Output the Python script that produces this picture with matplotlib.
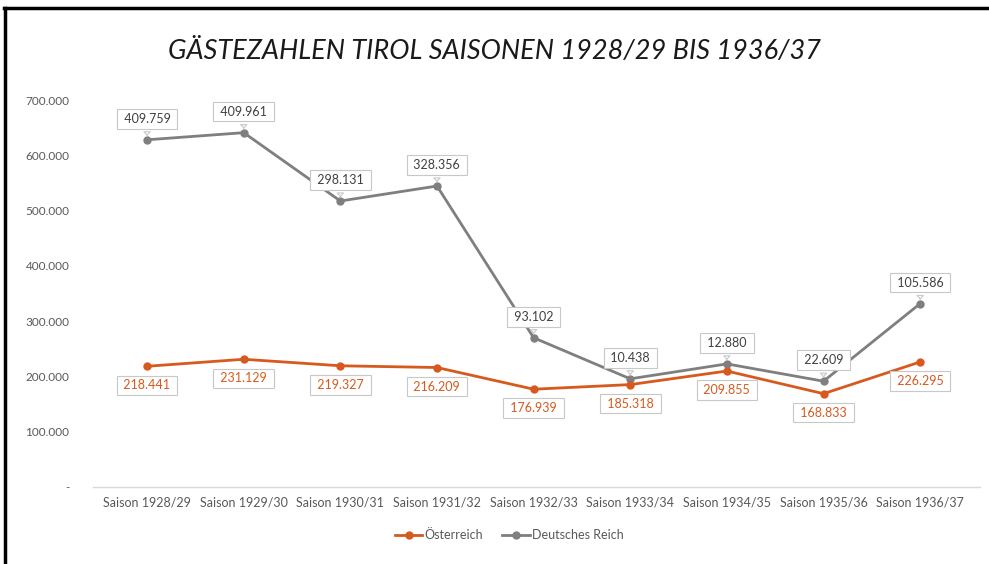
import matplotlib
matplotlib.use("Agg")
import matplotlib.pyplot as plt
from matplotlib.lines import Line2D
from matplotlib.ticker import FuncFormatter

# data
seasons = ["Saison 1928/29", "Saison 1929/30", "Saison 1930/31", "Saison 1931/32",
           "Saison 1932/33", "Saison 1933/34", "Saison 1934/35", "Saison 1935/36",
           "Saison 1936/37"]
oesterreich = [218441, 231129, 219327, 216209, 176939, 185318, 209855, 168833, 226295]
deutsches_reich = [409759, 409961, 298131, 328356, 93102, 10438, 12880, 22609, 105586]

ORANGE = "#D65A1E"
GRAY = "#7F7F7F"
plt.rcParams["font.family"] = ["Lato", "DejaVu Sans"]


def fmt_de(v):
    return f"{int(v):,}".replace(",", ".")


def y_fmt(v, pos):
    if v == 0:
        return "-"
    return fmt_de(v)


fig = plt.figure(figsize=(9.89, 5.64), dpi=100)
ax = fig.add_axes([0.094, 0.1365, 0.897, 0.686])

x = list(range(len(seasons)))
stacked = [a + b for a, b in zip(oesterreich, deutsches_reich)]

ax.plot(x, oesterreich, color=ORANGE, lw=2.0, marker="o", ms=5, zorder=3)
ax.plot(x, stacked, color=GRAY, lw=2.0, marker="o", ms=5, zorder=2)

box_kw = dict(boxstyle="square,pad=0.3", fc="white", ec="#C8C8C8", lw=0.8)
for i in x:
    ax.annotate(" " + fmt_de(oesterreich[i]) + " ", (i, oesterreich[i]), xytext=(0, -19),
                textcoords="offset pixels", ha="center", va="center",
                fontsize=9, color=ORANGE, bbox=box_kw, zorder=5)
    ax.annotate(" " + fmt_de(deutsches_reich[i]) + " ", (i, stacked[i]), xytext=(0, 21),
                textcoords="offset pixels", ha="center", va="center",
                fontsize=9, color="#404040", bbox=box_kw, zorder=5,
                arrowprops=dict(arrowstyle="wedge,tail_width=0.5,shrink_factor=0.4",
                                fc="white", ec="#C8C8C8", lw=0.8, shrinkB=3))

ax.set_xlim(-0.56, len(seasons) - 1 + 0.62)
ax.set_ylim(0, 700000)
ax.set_yticks(range(0, 700001, 100000))
ax.yaxis.set_major_formatter(FuncFormatter(y_fmt))
ax.set_xticks(x)
ax.set_xticklabels(seasons)
ax.tick_params(axis="both", length=0, labelcolor="#595959")
ax.tick_params(axis="x", labelsize=9, pad=7)
ax.tick_params(axis="y", labelsize=8.5, pad=17)
for s in ["top", "right", "left"]:
    ax.spines[s].set_visible(False)
ax.spines["bottom"].set_color("#D9D9D9")
ax.spines["bottom"].set_linewidth(1.0)

fig.text(0.5, 0.908, "GÄSTEZAHLEN TIROL SAISONEN 1928/29 BIS 1936/37",
         ha="center", va="center", fontsize=19.5, style="italic", color="#1a1a1a")

handles = [Line2D([], [], color=ORANGE, lw=2, marker="o", ms=5),
           Line2D([], [], color=GRAY, lw=2, marker="o", ms=5)]
fig.legend(handles, ["Österreich", "Deutsches Reich"], loc="center",
           bbox_to_anchor=(0.515, 0.051), ncol=2, frameon=False, fontsize=9,
           handlelength=2.2, handletextpad=0.2, columnspacing=1.5,
           labelcolor="#595959")

# frame lines at top and left
fig.add_artist(Line2D([0.004, 1.0], [0.986, 0.986], color="black", lw=2.5,
                      transform=fig.transFigure))
fig.add_artist(Line2D([0.005, 0.005], [0.0, 0.986], color="black", lw=2.5,
                      transform=fig.transFigure))

fig.savefig("out.png", dpi=100)
